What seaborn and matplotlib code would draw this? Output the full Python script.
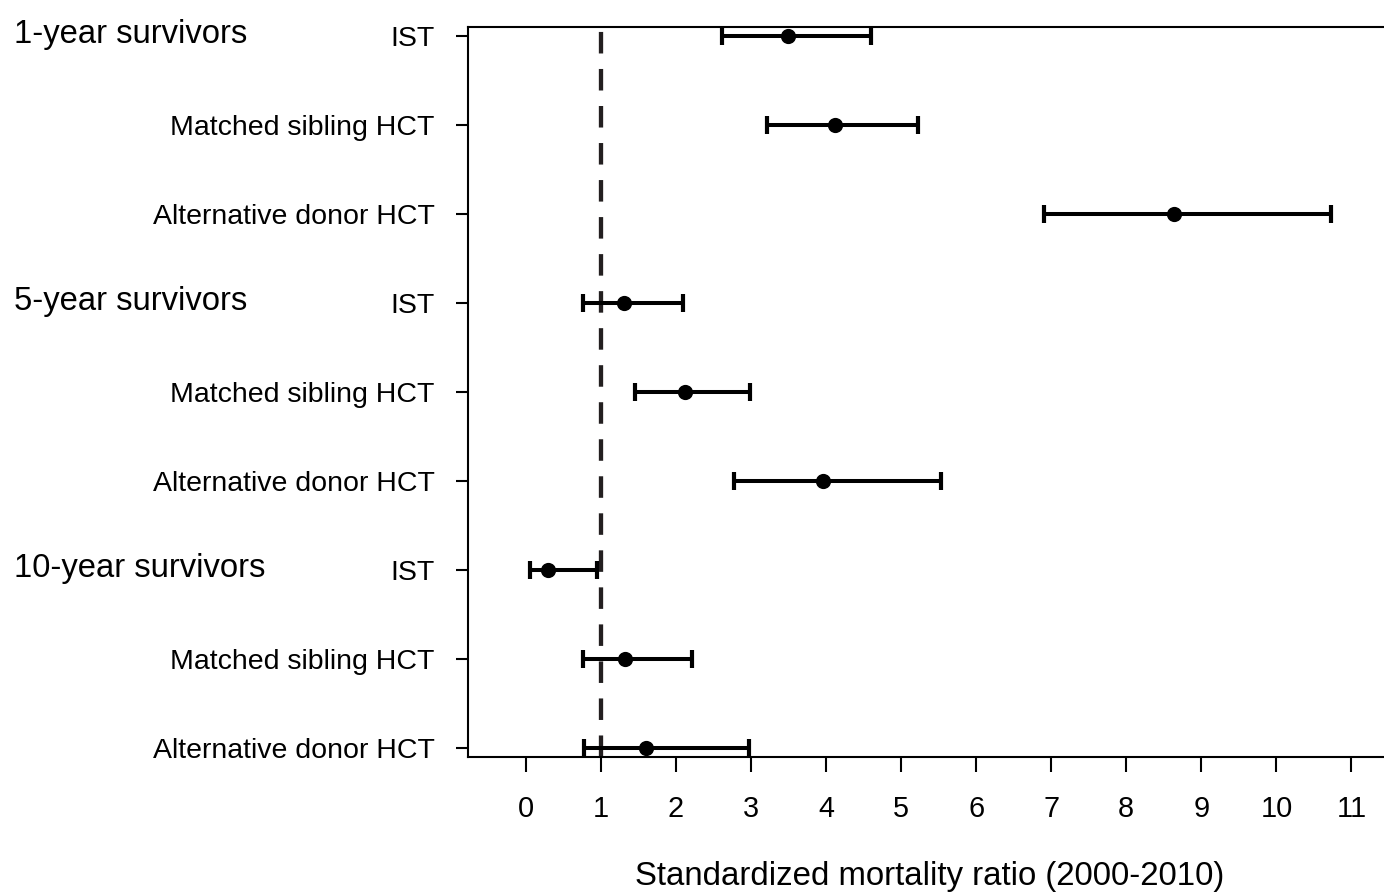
import matplotlib
matplotlib.use("Agg")
import matplotlib.pyplot as plt
import matplotlib.transforms as mtransforms
import seaborn as sns
import pandas as pd

# data
groups = ["1-year survivors", "5-year survivors", "10-year survivors"]
treatments = ["IST", "Matched sibling HCT", "Alternative donor HCT"]
smr = [3.49, 4.12, 8.63, 1.31, 2.12, 3.96, 0.30, 1.33, 1.60]
ci_low = [2.61, 3.22, 6.91, 0.77, 1.46, 2.77, 0.06, 0.76, 0.78]
ci_high = [4.60, 5.22, 10.73, 2.10, 2.99, 5.53, 0.95, 2.22, 2.97]
xticks = list(range(0, 12))

labels = [t for g in groups for t in treatments]
df = pd.DataFrame({"row": range(len(labels)), "label": labels,
                   "smr": smr, "lo": ci_low, "hi": ci_high})

sns.set_theme(style="ticks")
plt.rcParams["font.family"] = ["Liberation Sans", "DejaVu Sans"]

fig = plt.figure(figsize=(13.84, 8.94), dpi=100)
ax = fig.add_axes([0.3382, 0.1532, 0.6676, 0.8166])

# reference line at SMR = 1
ax.axvline(1, color="#231f20", lw=3.1, ls=(0, (5, 3.6)), zorder=1)

# confidence intervals
ax.errorbar(df.smr, df.row,
            xerr=[df.smr - df.lo, df.hi - df.smr],
            fmt="none", ecolor="black", elinewidth=2.9,
            capsize=6.4, capthick=3.0, zorder=2)
sns.scatterplot(data=df, x="smr", y="row", ax=ax, color="black",
                s=120, edgecolor="black", linewidth=0, zorder=3)

ax.set_xlim(-0.766, 11.54)
ax.set_ylim(8.1, -0.1)
ax.set_xticks(xticks)
ax.set_xticklabels([str(v) for v in xticks])
ax.set_yticks(df.row)
ax.set_yticklabels(df.label)

ax.tick_params(axis="x", length=11, width=1.5, pad=16, labelsize=20.8,
               color="black", labelcolor="black")
ax.tick_params(axis="y", length=9, width=1.5, pad=15, labelsize=20.5,
               color="black", labelcolor="black")
ax.set_xlabel("Standardized mortality ratio (2000-2010)", fontsize=23.8,
              labelpad=28, color="black")
ax.set_ylabel("")

for side in ["left", "bottom", "top"]:
    ax.spines[side].set_linewidth(1.5)
    ax.spines[side].set_color("black")
ax.spines["right"].set_visible(False)

# group headers at the far left
trans = mtransforms.blended_transform_factory(fig.transFigure, ax.transData)
for i, g in enumerate(groups):
    ax.text(0.0101, i * 3 + 0.075, g, transform=trans, ha="left",
            va="baseline", fontsize=23.6, color="black")

fig.savefig("out.png", dpi=100)
